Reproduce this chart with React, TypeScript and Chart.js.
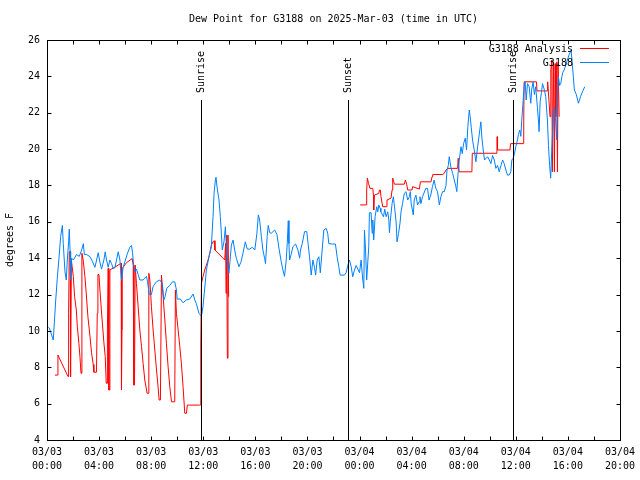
import React, { useEffect, useRef } from "react";
import { Chart, registerables } from "chart.js";

Chart.register(...registerables);

// ---------- text ----------
const TITLE = "Dew Point for G3188 on 2025-Mar-03 (time in UTC)";
const Y_TITLE = "degrees F";
const SERIES_NAMES = ["G3188 Analysis", "G3188"];
const SERIES_COLORS = ["#ff0000", "#0080ff"];

// ---------- axes (x = hours since 03/03 00:00 UTC) ----------
const X_MIN = 0;
const X_MAX = 44;
const Y_MIN = 4;
const Y_MAX = 26;
const Y_STEP = 2;
const xTickHours = [0, 2, 4, 6, 8, 10, 12, 14, 16, 18, 20, 22, 24, 26, 28, 30, 32, 34, 36, 38, 40, 42, 44];
const xLabelHours = [0, 4, 8, 12, 16, 20, 24, 28, 32, 36, 40, 44];
const xLabelDates = ["03/03", "03/03", "03/03", "03/03", "03/03", "03/03", "03/04", "03/04", "03/04", "03/04", "03/04", "03/04"];
const xLabelTimes = ["00:00", "04:00", "08:00", "12:00", "16:00", "20:00", "00:00", "04:00", "08:00", "12:00", "16:00", "20:00"];

// ---------- sun events ----------
const eventHours = [11.81, 23.15, 35.8];
const eventLabels = ["Sunrise", "Sunset", "Sunrise"];

// ---------- observations (G3188) ----------
const obsHours = [
  0.1, 0.18, 0.48, 0.67, 0.79, 0.92, 1.05, 1.18, 1.25, 1.38, 1.48, 1.56, 1.66, 1.71, 1.77, 1.81, 1.89, 2.02, 2.27, 2.48,
  2.66, 2.79, 2.87, 3.05, 3.3, 3.5, 3.68, 3.81, 3.93, 4.06, 4.19, 4.37, 4.47, 4.57, 4.7, 4.83, 4.96, 5.09, 5.22, 5.34,
  5.47, 5.6, 5.72, 5.85, 5.98, 6.15, 6.36, 6.49, 6.57, 6.67, 6.75, 6.87, 7.0, 7.13, 7.38, 7.64, 7.72, 7.85, 8.02, 8.15,
  8.4, 8.66, 8.86, 8.97, 9.07, 9.2, 9.43, 9.63, 9.81, 9.94, 10.0, 10.24, 10.45, 10.7, 10.96, 11.22, 11.35, 11.47, 11.67, 11.86,
  11.98, 12.1, 12.24, 12.44, 12.62, 12.75, 12.83, 12.93, 12.98, 13.06, 13.21, 13.31, 13.39, 13.46, 13.59, 13.7, 13.78, 13.85, 13.97, 14.05,
  14.16, 14.29, 14.41, 14.54, 14.74, 14.9, 15.05, 15.23, 15.38, 15.56, 15.77, 15.96, 16.12, 16.23, 16.33, 16.46, 16.58, 16.71, 16.78, 16.91,
  16.99, 17.1, 17.22, 17.48, 17.66, 17.81, 17.99, 18.12, 18.24, 18.37, 18.45, 18.53, 18.58, 18.63, 18.75, 18.88, 19.09, 19.27, 19.4, 19.47,
  19.6, 19.78, 19.95, 20.05, 20.16, 20.29, 20.42, 20.54, 20.63, 20.75, 20.88, 20.99, 21.13, 21.26, 21.44, 21.56, 21.64, 21.9, 22.15, 22.28,
  22.41, 22.51, 22.84, 22.97, 23.1, 23.23, 23.36, 23.48, 23.61, 23.74, 23.87, 24.0, 24.12, 24.25, 24.33, 24.38, 24.46, 24.55, 24.71, 24.76,
  24.89, 24.97, 25.02, 25.09, 25.2, 25.32, 25.4, 25.48, 25.58, 25.64, 25.84, 25.94, 26.04, 26.17, 26.25, 26.3, 26.37, 26.5, 26.6, 26.73,
  26.81, 26.88, 27.0, 27.11, 27.19, 27.31, 27.44, 27.57, 27.7, 27.83, 27.9, 27.97, 28.13, 28.2, 28.33, 28.46, 28.58, 28.64, 28.71, 28.84,
  29.09, 29.22, 29.34, 29.47, 29.6, 29.73, 29.86, 29.99, 30.13, 30.25, 30.38, 30.51, 30.64, 30.72, 30.82, 30.89, 31.02, 31.15, 31.28, 31.4,
  31.47, 31.56, 31.66, 31.79, 31.89, 31.99, 32.12, 32.22, 32.32, 32.43, 32.5, 32.58, 32.68, 32.81, 32.94, 33.07, 33.19, 33.32, 33.4, 33.5,
  33.6, 33.72, 33.85, 33.97, 34.09, 34.22, 34.35, 34.47, 34.6, 34.73, 34.86, 34.99, 35.11, 35.24, 35.36, 35.49, 35.62, 35.7, 35.8, 35.9,
  36.0, 36.13, 36.2, 36.31, 36.39, 36.46, 36.57, 36.64, 36.72, 36.8, 36.9, 37.03, 37.15, 37.23, 37.33, 37.43, 37.53, 37.66, 37.74, 37.79,
  37.87, 37.97, 38.05, 38.18, 38.3, 38.43, 38.51, 38.6, 38.68, 38.76, 38.86, 38.96, 39.06, 39.14, 39.19, 39.27, 39.37, 39.45, 39.6, 39.71,
  39.84, 39.96, 40.1, 40.25, 40.35, 40.42, 40.5, 40.65, 40.81, 40.98, 41.15, 41.3,
];
const obsValues = [
  10.2, 10.16, 9.5, 11.7, 12.9, 14.0, 15.2, 15.8, 14.8, 13.25, 12.8, 13.9, 14.9, 15.6, 14.4, 12.8, 14.0, 13.9, 14.2, 14.1,
  14.45, 14.8, 14.2, 14.2, 14.08, 13.8, 13.5, 13.9, 14.3, 13.8, 13.4, 13.9, 14.35, 13.9, 13.5, 13.9, 13.7, 13.4, 13.5, 13.9,
  14.35, 13.9, 12.8, 13.5, 13.8, 14.2, 14.6, 14.7, 14.3, 13.5, 13.25, 13.4, 13.1, 12.8, 12.8, 13.0, 12.7, 12.0, 12.0, 12.45,
  12.7, 12.8, 12.6, 11.7, 11.9, 12.35, 12.5, 12.7, 12.7, 12.25, 11.75, 11.75, 11.55, 11.7, 11.75, 12.03, 11.7, 11.5, 10.97, 10.8,
  11.33, 12.25, 13.35, 14.08, 14.63, 16.28, 17.57, 18.3, 18.45, 17.9, 17.2, 16.28, 15.37, 14.45, 14.9, 15.73, 14.63, 13.8, 13.17, 13.8,
  14.72, 15.0, 14.45, 14.0, 13.53, 13.8, 14.27, 14.9, 14.5, 14.5, 14.6, 14.45, 15.37, 16.38, 16.1, 15.2, 14.45, 14.0, 13.7, 15.2,
  15.8, 15.4, 15.37, 15.55, 15.3, 14.55, 13.8, 13.35, 13.0, 13.9, 14.8, 16.06, 14.8, 13.9, 14.2, 14.63, 14.78, 14.45, 14.0, 14.45,
  14.8, 15.46, 15.46, 14.8, 14.08, 13.07, 13.9, 13.5, 13.07, 13.9, 14.08, 13.2, 14.45, 15.55, 15.64, 15.37, 14.8, 14.78, 14.78, 14.08,
  13.53, 13.07, 13.07, 13.2, 13.6, 13.9, 13.53, 12.98, 13.35, 13.6, 13.4, 13.2, 13.9, 12.8, 12.34, 15.55, 14.5, 12.8, 14.63, 16.5,
  16.5, 15.37, 16.1, 15.0, 16.3, 16.83, 16.55, 16.93, 16.75, 16.55, 16.28, 16.7, 16.28, 16.55, 16.1, 15.4, 16.1, 17.0, 17.38, 16.55,
  16.0, 14.9, 15.37, 15.92, 16.55, 17.02, 17.57, 17.66, 17.2, 17.38, 17.66, 17.0, 16.38, 17.2, 17.47, 16.93, 17.1, 17.38, 17.0, 17.38,
  17.84, 17.84, 17.2, 17.47, 17.93, 18.3, 17.84, 17.66, 16.93, 17.38, 17.66, 17.66, 18.0, 18.85, 19.1, 19.58, 19.0, 18.67, 18.3, 17.93,
  17.66, 18.6, 19.4, 20.13, 19.75, 20.3, 20.6, 19.95, 21.23, 22.15, 21.78, 21.2, 20.5, 19.95, 19.3, 20.13, 20.78, 21.5, 20.6, 19.95,
  19.4, 19.5, 19.57, 19.4, 19.2, 19.65, 19.4, 18.94, 19.1, 18.75, 19.1, 19.4, 19.2, 18.85, 18.57, 18.57, 18.75, 19.4, 19.5, 19.75,
  20.13, 20.5, 20.8, 21.05, 20.7, 21.6, 22.7, 23.43, 23.7, 22.7, 23.6, 23.43, 22.52, 23.3, 23.7, 23.0, 23.43, 22.3, 21.6, 20.96,
  22.6, 23.1, 23.6, 23.3, 22.9, 21.6, 20.2, 19.1, 18.4, 19.9, 21.5, 22.3, 21.6, 20.5, 22.33, 23.98, 23.5, 23.6, 24.2, 24.35,
  24.6, 24.9, 25.2, 25.45, 24.6, 23.98, 23.25, 23.0, 22.52, 22.9, 23.2, 23.43,
];

// ---------- analysis (G3188 Analysis); null = gap ----------
const anaHours = [
  0.61, 0.79, 0.84, 1.56, 1.63, 1.66, 1.71, 1.78, 1.81, 1.87, 2.02, 2.12, 2.25, 2.33, 2.45, 2.53, 2.61, 2.66, 2.68, 2.78,
  2.91, 3.01, 3.14, 3.3, 3.42, 3.55, 3.6, 3.8, 3.86, 3.91, 3.99, 4.06, 4.17, 4.27, 4.37, 4.47, 4.55, 4.63, 4.64, 4.7,
  4.75, 4.8, 4.83, 5.7, 5.72, 5.76, 5.78, 6.1, 6.54, 6.62, 6.67, 6.72, 6.77, 6.87, 7.0, 7.13, 7.26, 7.38, 7.51, 7.69,
  7.76, 7.82, 7.9, 8.02, 8.15, 8.28, 8.41, 8.53, 8.61, 8.71, 8.79, 8.92, 9.05, 9.17, 9.3, 9.43, 9.56, 9.81, 9.86, 9.94,
  10.07, 10.2, 10.32, 10.45, 10.58, 10.71, 10.78, 10.96, 11.73, 11.78, 11.81, 11.86, 11.98, 12.11, 12.24, 12.37, 12.5, 12.62, 12.75, 12.83,
  12.9, 13.65, 13.72, 13.75, 13.78, 13.82, 13.85, 13.9, 13.95,
  19.0,
  24.05, 24.5, 24.55, 24.6, 24.7, 24.8, 25.02, 25.07, 25.09, 25.14, 25.48, 25.53, 25.6, 25.65, 25.78, 26.04, 26.11, 26.42, 26.5, 26.55,
  26.68, 27.44, 27.52, 27.62, 27.7, 28.03, 28.08, 28.6, 28.67, 29.49, 29.57, 29.62, 30.38, 30.5, 30.64, 30.77, 31.53, 31.58, 31.65, 32.63,
  32.66, 34.55, 34.57, 34.6, 35.55, 35.6, 36.59, 36.61, 36.64, 37.59, 37.63, 38.41, 38.45, 38.63, 38.69, 38.77, 38.81, 38.89, 38.97, 39.02,
  39.07, 39.15, 39.2, 39.25, 39.33,
];
const anaValues = [
  7.57, 7.57, 8.67, 7.57, 7.48, 10.97, 14.35, 14.35, 7.48, 13.9, 13.0, 11.88, 11.15, 10.23, 9.32, 8.58, 7.67, 7.67, 14.27, 13.9,
  13.0, 12.1, 10.8, 9.7, 8.8, 8.15, 7.73, 7.73, 10.97, 13.1, 13.1, 12.3, 11.2, 10.27, 9.35, 8.6, 7.12, 7.12, 10.1, 13.44,
  6.75, 6.75, 13.35, 13.72, 6.75, 10.1, 13.44, 13.75, 13.98, 13.62, 7.02, 7.02, 13.62, 12.6, 11.33, 10.05, 9.13, 8.22, 7.3, 6.57,
  6.57, 13.17, 12.8, 11.33, 10.05, 8.95, 7.85, 6.93, 6.2, 6.2, 13.07, 11.88, 10.6, 9.32, 8.03, 6.93, 6.1, 6.1, 12.25, 10.97,
  10.05, 9.13, 8.22, 6.93, 5.47, 5.47, 5.92, 5.92, 5.92, 5.92, 9.22, 12.62, 12.98, 13.35, 13.62, 13.9, 14.27, 14.72, 14.9, 14.96,
  14.45, 13.9, 14.82, 12.07, 12.07, 15.27, 8.5, 15.27, 11.88,
  null,
  16.93, 16.93, 17.75, 18.4, 18.1, 17.84, 17.84, 17.47, 16.65, 17.47, 17.56, 17.75, 17.75, 17.38, 16.83, 16.83, 17.2, 17.3, 17.75, 18.4,
  18.07, 18.07, 18.3, 18.07, 17.75, 17.75, 17.93, 17.8, 18.2, 18.2, 18.48, 18.6, 18.6, 18.66, 18.85, 18.94, 18.94, 19.5, 18.75, 18.75,
  19.77, 19.77, 20.68, 19.95, 19.95, 20.3, 20.3, 21.5, 23.7, 23.7, 23.2, 23.2, 23.7, 21.78, 24.35, 24.9, 18.75, 24.8, 18.75, 24.7,
  21.78, 24.8, 18.75, 24.7, 21.78,
];

const FONT = "'DejaVu Sans Mono', 'Liberation Mono', monospace";

const decorPlugin = {
  id: "gnuplotDecor",
  afterDraw(chart: any) {
    const ctx = chart.ctx as CanvasRenderingContext2D;
    const { left, right, top, bottom } = chart.chartArea;
    const xs = chart.scales.x;
    const ys = chart.scales.y;
    const L = Math.round(left) + 0.5;
    const R = Math.round(right) + 0.5;
    const T = Math.round(top) + 0.5;
    const B = Math.round(bottom) + 0.5;
    ctx.save();
    ctx.strokeStyle = "#000";
    ctx.fillStyle = "#000";
    ctx.lineWidth = 1;

    // inward tick marks on all four sides
    const tl = 4;
    ctx.beginPath();
    for (const h of xTickHours) {
      const px = Math.round(xs.getPixelForValue(h)) + 0.5;
      ctx.moveTo(px, B);
      ctx.lineTo(px, B - tl);
      ctx.moveTo(px, T);
      ctx.lineTo(px, T + tl);
    }
    for (let v = Y_MIN; v <= Y_MAX; v += Y_STEP) {
      const py = Math.round(ys.getPixelForValue(v)) + 0.5;
      ctx.moveTo(L, py);
      ctx.lineTo(L + tl, py);
      ctx.moveTo(R, py);
      ctx.lineTo(R - tl, py);
    }
    ctx.stroke();

    // frame
    ctx.strokeRect(L, T, R - L, B - T);

    ctx.font = `10px ${FONT}`;

    // sunrise / sunset markers
    const lineTop = top + 0.15 * (bottom - top);
    eventHours.forEach((h, i) => {
      const px = Math.round(xs.getPixelForValue(h)) + 0.5;
      ctx.beginPath();
      ctx.moveTo(px, lineTop);
      ctx.lineTo(px, B);
      ctx.stroke();
      ctx.save();
      ctx.translate(px, lineTop - 7);
      ctx.rotate(-Math.PI / 2);
      ctx.textAlign = "left";
      ctx.textBaseline = "middle";
      ctx.fillText(eventLabels[i], 0, 0);
      ctx.restore();
    });

    // title
    ctx.textAlign = "center";
    ctx.textBaseline = "middle";
    ctx.fillText(TITLE, (left + right) / 2, 19);

    // y-axis title
    ctx.save();
    ctx.translate(10, (top + bottom) / 2);
    ctx.rotate(-Math.PI / 2);
    ctx.textAlign = "center";
    ctx.textBaseline = "middle";
    ctx.fillText(Y_TITLE, 0, 0);
    ctx.restore();

    // key (top right, gnuplot style)
    SERIES_NAMES.forEach((name, i) => {
      const y = top + 9 + i * 14;
      ctx.textAlign = "right";
      ctx.textBaseline = "middle";
      ctx.fillStyle = "#000";
      ctx.fillText(name, right - 47, y);
      ctx.strokeStyle = SERIES_COLORS[i];
      ctx.beginPath();
      ctx.moveTo(right - 40, Math.round(y) - 0.5);
      ctx.lineTo(right - 11, Math.round(y) - 0.5);
      ctx.stroke();
    });

    ctx.restore();
  },
};

export default function App() {
  const canvasRef = useRef<HTMLCanvasElement | null>(null);

  useEffect(() => {
    if (!canvasRef.current) return;
    const obsData = obsHours.map((x, i) => ({ x, y: obsValues[i] }));
    const anaData = anaHours.map((x, i) => ({ x, y: anaValues[i] }));

    const chart = new Chart(canvasRef.current, {
      type: "line",
      data: {
        datasets: [
          {
            label: SERIES_NAMES[1],
            data: obsData,
            borderColor: SERIES_COLORS[1],
            borderWidth: 1,
            pointRadius: 0,
            fill: false,
            tension: 0,
          },
          {
            label: SERIES_NAMES[0],
            data: anaData as any,
            borderColor: SERIES_COLORS[0],
            borderWidth: 1,
            pointRadius: 0,
            fill: false,
            tension: 0,
            spanGaps: false,
          },
        ],
      },
      options: {
        responsive: false,
        animation: false,
        devicePixelRatio: 1,
        layout: { padding: { top: 40, right: 19, left: 0, bottom: 0 } },
        plugins: {
          legend: { display: false },
          title: { display: false },
          tooltip: { enabled: false },
        },
        scales: {
          x: {
            type: "linear",
            min: X_MIN,
            max: X_MAX,
            grid: { display: false, drawTicks: false },
            border: { display: false },
            afterBuildTicks: (scale: any) => {
              scale.ticks = xTickHours.map((v) => ({ value: v }));
            },
            afterFit: (scale: any) => {
              scale.height = 40;
            },
            ticks: {
              autoSkip: false,
              maxRotation: 0,
              minRotation: 0,
              padding: 5,
              color: "#000",
              font: { family: FONT, size: 10, lineHeight: 1.4 },
              callback: (value: any) => {
                const idx = xLabelHours.indexOf(Number(value));
                return idx >= 0 ? [xLabelDates[idx], xLabelTimes[idx]] : "";
              },
            },
          },
          y: {
            type: "linear",
            min: Y_MIN,
            max: Y_MAX,
            grid: { display: false, drawTicks: false },
            border: { display: false },
            afterFit: (scale: any) => {
              scale.width = 47;
            },
            ticks: {
              stepSize: Y_STEP,
              padding: 7,
              color: "#000",
              font: { family: FONT, size: 10 },
            },
          },
        },
      },
      plugins: [decorPlugin],
    });
    return () => chart.destroy();
  }, []);

  return (
    <div style={{ position: "absolute", left: 0, top: 0, width: 640, height: 480, background: "#fff" }}>
      <canvas ref={canvasRef} width={640} height={480} />
    </div>
  );
}
